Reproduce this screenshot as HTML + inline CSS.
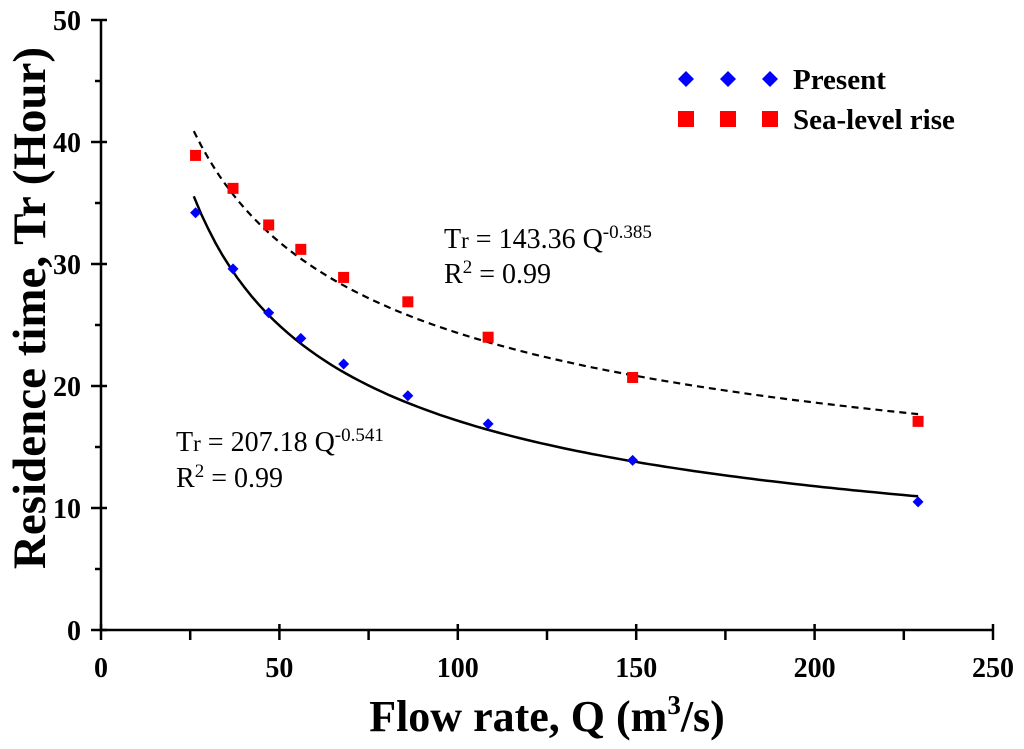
<!DOCTYPE html>
<html><head><meta charset="utf-8"><style>
body{margin:0;background:#fff;}
svg text{font-family:"Liberation Serif",serif;}
</style></head><body>
<svg id="chart" width="1024" height="744" xmlns="http://www.w3.org/2000/svg">
<g id="axes"></g><g id="marks"></g>
<g>
<g id="leg"></g>
<text x="793" y="89" font-size="29" font-weight="bold">Present</text>
<text x="793" y="129" font-size="29" font-weight="bold">Sea-level rise</text>
</g>
<text x="444" y="248" font-size="28">T<tspan font-size="23">r</tspan> = 143.36 Q<tspan font-size="19" dy="-10">-0.385</tspan></text>
<text x="444" y="283" font-size="28">R<tspan font-size="19" dy="-10">2</tspan><tspan dy="10"> = 0.99</tspan></text>
<text x="176" y="451" font-size="28">T<tspan font-size="23">r</tspan> = 207.18 Q<tspan font-size="19" dy="-10">-0.541</tspan></text>
<text x="176" y="487" font-size="28">R<tspan font-size="19" dy="-10">2</tspan><tspan dy="10"> = 0.99</tspan></text>
<text x="547" y="731" font-size="44" font-weight="bold" text-anchor="middle">Flow rate, Q (m<tspan font-size="27" dy="-17">3</tspan><tspan dy="17">/s)</tspan></text>
<text transform="translate(45,308) rotate(-90)" font-size="47" font-weight="bold" text-anchor="middle">Residence time, Tr (Hour)</text>
</svg>
<script>
const flowRates=[26.5,37,47,56,68,86,108.5,149,229];
const presentValues=[34.2,29.6,26.0,23.9,21.8,19.2,16.9,13.9,10.5];
const seaLevelValues=[38.9,36.2,33.2,31.2,28.9,26.9,24.0,20.7,17.1];
const xTicks=[0,50,100,150,200,250];
const yTicks=[0,10,20,30,40,50];
const presentFit=[207.18,-0.541];
const seaFit=[143.36,-0.385];
const fitRange=[26,229];

const NS="http://www.w3.org/2000/svg";
const X0=101,X1=993,Y0=630,Y1=20;
const xs=v=>X0+(v-0)/250*(X1-X0);
const ys=v=>Y0-(v-0)/50*(Y0-Y1);
function mk(tag,attrs,parent){const e=document.createElementNS(NS,tag);for(const k in attrs)e.setAttribute(k,attrs[k]);parent.appendChild(e);return e;}
const axes=document.getElementById('axes'),marks=document.getElementById('marks');
let e=mk('line',{x1:X0,y1:Y0,x2:X1,y2:Y0,stroke:'#000','stroke-width':2.5},axes);


e=mk('line',{x1:X0,y1:Y0,x2:X0,y2:Y1,stroke:'#000','stroke-width':2.5},axes);


for(let v=0;v<=250;v+=25){const x=xs(v);const maj=v%50===0;
 e=mk('line',{x1:x,y1:Y0-(maj?6:0),x2:x,y2:Y0+10,stroke:'#000','stroke-width':2.5},axes);
 
 }
xTicks.forEach(v=>{e=mk('text',{x:xs(v),y:Y0+47,'font-size':28,'font-weight':'bold','text-anchor':'middle'},axes);e.textContent=v;
 
 });
for(let v=0;v<=50;v+=5){const y=ys(v);const maj=v%10===0;
 e=mk('line',{x1:X0-(maj?10:6),y1:y,x2:X0+(maj?6:0),y2:y,stroke:'#000','stroke-width':2.5},axes);
 
 }
yTicks.forEach(v=>{e=mk('text',{x:X0-20,y:ys(v)+10,'font-size':28,'font-weight':'bold','text-anchor':'end'},axes);e.textContent=v;
 
 });
function fitPath(f){let d='';for(let i=0;i<=100;i++){const q=fitRange[0]+(fitRange[1]-fitRange[0])*i/100;d+=(i?'L':'M')+xs(q).toFixed(1)+','+ys(f[0]*Math.pow(q,f[1])).toFixed(1);}return d;}
e=mk('path',{d:fitPath(seaFit),fill:'none',stroke:'#000','stroke-width':2.2,'stroke-dasharray':'7,5'},marks);


e=mk('path',{d:fitPath(presentFit),fill:'none',stroke:'#000','stroke-width':2.5},marks);


function sq(x,y,p,s){return mk('rect',{x:x-s,y:y-s,width:2*s,height:2*s,fill:'#f00'},p);}
function dia(x,y,p,s){return mk('polygon',{points:`${x},${y-s} ${x+s},${y} ${x},${y+s} ${x-s},${y}`,fill:'#00f'},p);}
flowRates.forEach((q,i)=>{
 e=sq(xs(q),ys(seaLevelValues[i]),marks,5.5);
 
 
 e=dia(xs(q),ys(presentValues[i]),marks,5.5);
 
 
});
const leg=document.getElementById('leg');
[686,728,770].forEach(x=>{
 e=dia(x,79,leg,8);
 
 
 e=sq(x,119,leg,8);
 
 
});
</script>
</body></html>
